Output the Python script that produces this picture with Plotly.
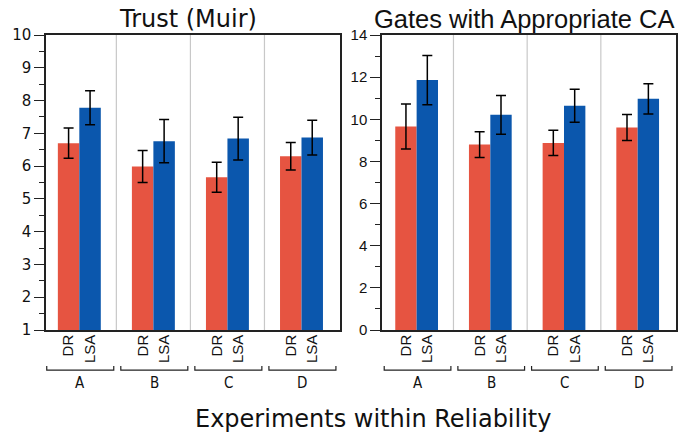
import plotly.graph_objects as go

groups = ["A", "B", "C", "D"]
conditions = ["DR", "LSA"]

trust_dr = [6.70, 5.99, 5.66, 6.30]
trust_dr_err = [0.46, 0.49, 0.46, 0.42]
trust_lsa = [7.78, 6.76, 6.84, 6.87]
trust_lsa_err = [0.52, 0.66, 0.65, 0.53]

gates_dr = [9.66, 8.80, 8.88, 9.61]
gates_dr_err = [1.07, 0.61, 0.60, 0.62]
gates_lsa = [11.86, 10.21, 10.64, 10.97]
gates_lsa_err = [1.17, 0.92, 0.78, 0.72]

titles = ["Trust (Muir)", "Gates with Appropriate CA"]
xlabel = "Experiments within Reliability"

RED = "#E65441"
BLUE = "#0B57AD"
BW = 0.29

fig = go.Figure()

idx = list(range(len(groups)))
x_dr = [i - BW / 2 for i in idx]
x_lsa = [i + BW / 2 for i in idx]

panels = [
    ("x", "y", trust_dr, trust_dr_err, trust_lsa, trust_lsa_err),
    ("x2", "y2", gates_dr, gates_dr_err, gates_lsa, gates_lsa_err),
]
for xa, ya, dr, dre, lsa, lsae in panels:
    fig.add_trace(go.Bar(
        x=x_dr, y=dr, width=BW, xaxis=xa, yaxis=ya, name="DR",
        marker=dict(color=RED, line=dict(width=0)),
        error_y=dict(type="data", array=dre, color="black", thickness=1.5, width=5),
        showlegend=False,
    ))
    fig.add_trace(go.Bar(
        x=x_lsa, y=lsa, width=BW, xaxis=xa, yaxis=ya, name="LSA",
        marker=dict(color=BLUE, line=dict(width=0)),
        error_y=dict(type="data", array=lsae, color="black", thickness=1.5, width=5),
        showlegend=False,
    ))

tickvals = []
ticktext = []
for i in idx:
    tickvals += [x_dr[i], x_lsa[i]]
    ticktext += conditions

common_x = dict(
    tickvals=tickvals, ticktext=ticktext, tickangle=-90, automargin=False,
    showgrid=False, zeroline=False, ticks="", ticklabelstandoff=-3,
    showline=True, mirror=True, linecolor="#222", linewidth=1.5,
    tickfont=dict(family="Liberation Sans", size=15, color="#111"),
)
fig.update_layout(
    width=689, height=426,
    margin=dict(l=38, r=21, t=27, b=104),
    plot_bgcolor="white", paper_bgcolor="white",
    barmode="overlay",
    xaxis=dict(domain=[0, 294 / 630], range=[-0.45, 3.52], anchor="y", **common_x),
    xaxis2=dict(domain=[336 / 630, 1], range=[-0.47, 3.52], anchor="y2", **common_x),
    yaxis=dict(
        range=[1, 10], dtick=1, tick0=1, anchor="x", automargin=False,
        showgrid=False, zeroline=False, ticks="outside", ticklen=10, tickwidth=1.2,
        tickcolor="#222", showline=True, mirror=True, linecolor="#222", linewidth=1.5,
        minor=dict(dtick=0.5, ticks="outside", ticklen=5, tickcolor="#222", tickwidth=1.2, showgrid=False),
        tickfont=dict(family="DejaVu Sans", size=15, color="#111"),
    ),
    yaxis2=dict(
        range=[0, 14], dtick=2, tick0=0, anchor="x2", automargin=False,
        showgrid=False, zeroline=False, ticks="outside", ticklen=10, tickwidth=1.2,
        tickcolor="#222", showline=True, mirror=True, linecolor="#222", linewidth=1.5,
        minor=dict(dtick=1, ticks="outside", ticklen=5, tickcolor="#222", tickwidth=1.2, showgrid=False),
        tickfont=dict(family="Liberation Sans", size=15, color="#111"),
    ),
)

shapes = []
annotations = []
for xa, ya in [("x", "y"), ("x2", "y2")]:
    for i in idx[:-1]:
        shapes.append(dict(type="line", xref=xa, yref=ya + " domain",
                           x0=i + 0.5, x1=i + 0.5, y0=0, y1=1,
                           line=dict(color="#C8C8C8", width=1.2), layer="below"))
    for i, g in enumerate(groups):
        x0, x1 = i - 0.44, i + 0.465
        yb, yt = -0.136, -0.122
        shapes.append(dict(type="path", xref=xa, yref="paper",
                           path=f"M {x0} {yt} L {x0} {yb} L {x1} {yb} L {x1} {yt}",
                           line=dict(color="#222", width=1.2)))
        annotations.append(dict(text=g, xref=xa, yref="paper", x=(x0 + x1) / 2, y=-0.18,
                                showarrow=False, xanchor="center", yanchor="middle",
                                font=dict(family="DejaVu Sans Condensed", size=15, color="#111")))

annotations.append(dict(text=titles[0], xref="paper", yref="paper", x=(188 - 46) / 630, y=1.0,
                        yanchor="bottom", xanchor="center", showarrow=False, yshift=0,
                        font=dict(family="DejaVu Sans", size=24, color="#111")))
annotations.append(dict(text=titles[1], xref="paper", yref="paper", x=(524 - 46) / 630, y=1.0,
                        yanchor="bottom", xanchor="center", showarrow=False, yshift=0,
                        font=dict(family="Liberation Sans", size=25.5, color="#111")))
annotations.append(dict(text=xlabel, xref="paper", yref="paper", x=(373 - 46) / 630, y=-0.302,
                        yanchor="middle", xanchor="center", showarrow=False,
                        font=dict(family="DejaVu Sans", size=24, color="#111")))

fig.update_layout(shapes=shapes, annotations=annotations)
fig.write_html("out.html")
